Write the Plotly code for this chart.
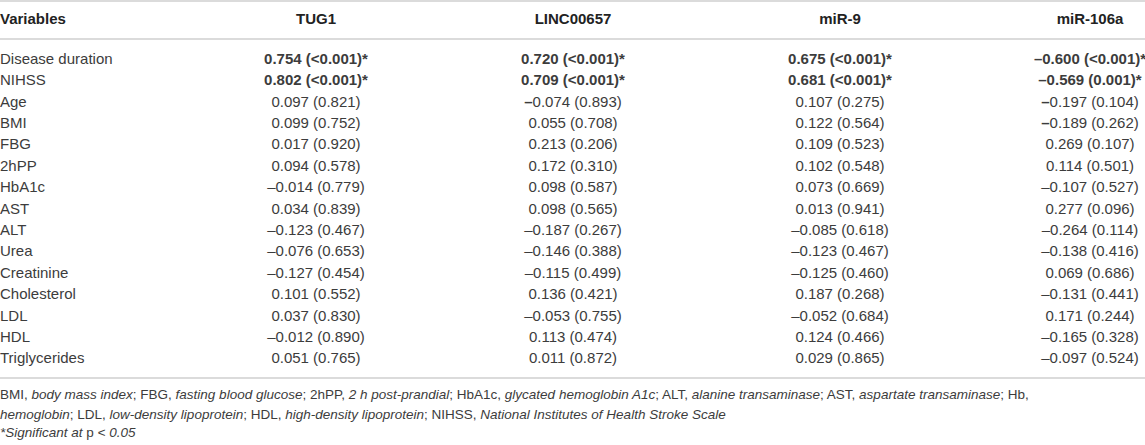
import plotly.graph_objects as go

# ---------------- data ----------------
variables = ["Disease duration", "NIHSS", "Age", "BMI", "FBG", "2hPP", "HbA1c", "AST",
             "ALT", "Urea", "Creatinine", "Cholesterol", "LDL", "HDL", "Triglycerides"]

columns = ["TUG1", "LINC00657", "miR-9", "miR-106a"]

tug1_r = [0.754, 0.802, 0.097, 0.099, 0.017, 0.094, -0.014, 0.034, -0.123, -0.076, -0.127, 0.101, 0.037, -0.012, 0.051]
tug1_p = ["<0.001", "<0.001", "0.821", "0.752", "0.920", "0.578", "0.779", "0.839", "0.467", "0.653", "0.454", "0.552", "0.830", "0.890", "0.765"]

linc_r = [0.720, 0.709, -0.074, 0.055, 0.213, 0.172, 0.098, 0.098, -0.187, -0.146, -0.115, 0.136, -0.053, 0.113, 0.011]
linc_p = ["<0.001", "<0.001", "0.893", "0.708", "0.206", "0.310", "0.587", "0.565", "0.267", "0.388", "0.499", "0.421", "0.755", "0.474", "0.872"]

mir9_r = [0.675, 0.681, 0.107, 0.122, 0.109, 0.102, 0.073, 0.013, -0.085, -0.123, -0.125, 0.187, -0.052, 0.124, 0.029]
mir9_p = ["<0.001", "<0.001", "0.275", "0.564", "0.523", "0.548", "0.669", "0.941", "0.618", "0.467", "0.460", "0.268", "0.684", "0.466", "0.865"]

mir106a_r = [-0.600, -0.569, -0.197, -0.189, 0.269, 0.114, -0.107, 0.277, -0.264, -0.138, 0.069, -0.131, 0.171, -0.165, -0.097]
mir106a_p = ["<0.001", "0.001", "0.104", "0.262", "0.107", "0.501", "0.527", "0.096", "0.114", "0.416", "0.686", "0.441", "0.244", "0.328", "0.524"]

# cells where the minus sign is typeset in bold in the source table
bold_dash_cells = [("LINC00657", "Age"), ("miR-106a", "Age"), ("miR-106a", "BMI")]

footnote_lines = [
    "BMI, <i>body mass index</i>; FBG, <i>fasting blood glucose</i>; 2hPP, <i>2 h post-prandial</i>; "
    "HbA1c, <i>glycated hemoglobin A1c</i>; ALT, <i>alanine transaminase</i>; AST, <i>aspartate transaminase</i>; Hb,",
    "<i>hemoglobin</i>; LDL, <i>low-density lipoprotein</i>; HDL, <i>high-density lipoprotein</i>; "
    "NIHSS, <i>National Institutes of Health Stroke Scale</i>",
    "<i>*Significant at</i> p <i>&lt; 0.05</i>",
]

# ---------------- layout / style ----------------
W, H = 1145, 445
FONT = "Liberation Sans, Arial, Helvetica, sans-serif"
TXT = "#3c3c3c"
HEAD = "#222222"
LINE = "#cfcfcf"
FS = 15
FS_FOOT = 13.5

col_x = {"TUG1": 316, "LINC00657": 573, "miR-9": 840, "miR-106a": 1090}
header_y = 20
row0_y = 60
row_pitch = 21.4
top_line_y = 1
head_line_y = 39
bottom_line_y = 378
foot_y = [396, 416, 434]
left_x = 0

series = {
    "TUG1": (tug1_r, tug1_p),
    "LINC00657": (linc_r, linc_p),
    "miR-9": (mir9_r, mir9_p),
    "miR-106a": (mir106a_r, mir106a_p),
}


def is_sig(p):
    return p.startswith("<") or float(p) < 0.05


def cell_text(col, var, r, p):
    s = f"{abs(r):.3f}"
    neg = r < 0
    ptxt = p.replace("<", "&lt;")
    if is_sig(p):
        body = f"{s} ({ptxt})*"
        return ("<b>–" + body + "</b>") if neg else ("<b>" + body + "</b>")
    body = f"{s} ({ptxt})"
    if neg:
        dash = "<b>–</b>" if (col, var) in bold_dash_cells else "–"
        return dash + body
    return body


row_y = [row0_y + i * row_pitch for i in range(len(variables))]

fig = go.Figure()


def text_trace(x, y, text, pos, size, color):
    return go.Scatter(
        x=x, y=y, mode="text", text=text, textposition=pos,
        textfont=dict(family=FONT, size=size, color=color),
        cliponaxis=False, hoverinfo="skip", showlegend=False,
    )


# variable names
fig.add_trace(text_trace([left_x] * len(variables), row_y, variables, "middle right", FS, TXT))

# header
fig.add_trace(text_trace([left_x], [header_y], ["<b>Variables</b>"], "middle right", FS, HEAD))
fig.add_trace(text_trace([col_x[c] for c in columns], [header_y] * len(columns),
                         [f"<b>{c}</b>" for c in columns], "middle center", FS, HEAD))

# value columns
for c in columns:
    rs, ps = series[c]
    fig.add_trace(text_trace([col_x[c]] * len(variables), row_y,
                             [cell_text(c, v, r, p) for v, r, p in zip(variables, rs, ps)],
                             "middle center", FS, TXT))

# footnotes
fig.add_trace(text_trace([left_x] * len(footnote_lines), foot_y, footnote_lines,
                         "middle right", FS_FOOT, TXT))

for yl in (top_line_y, head_line_y, bottom_line_y):
    fig.add_shape(type="line", xref="x", yref="y", x0=0, x1=W, y0=yl, y1=yl,
                  line=dict(color=LINE, width=1.5))

fig.update_layout(
    width=W, height=H, margin=dict(l=0, r=0, t=0, b=0),
    paper_bgcolor="white", plot_bgcolor="white",
    xaxis=dict(range=[0, W], visible=False, fixedrange=True),
    yaxis=dict(range=[H, 0], visible=False, fixedrange=True),
)

# remove the default 8px page margin so the figure sits at the window's top-left corner
fig.write_html(
    "out.html",
    config={"displayModeBar": False},
    post_script="document.body.style.margin='0';document.body.style.padding='0';"
                "document.body.style.overflow='hidden';",
)
